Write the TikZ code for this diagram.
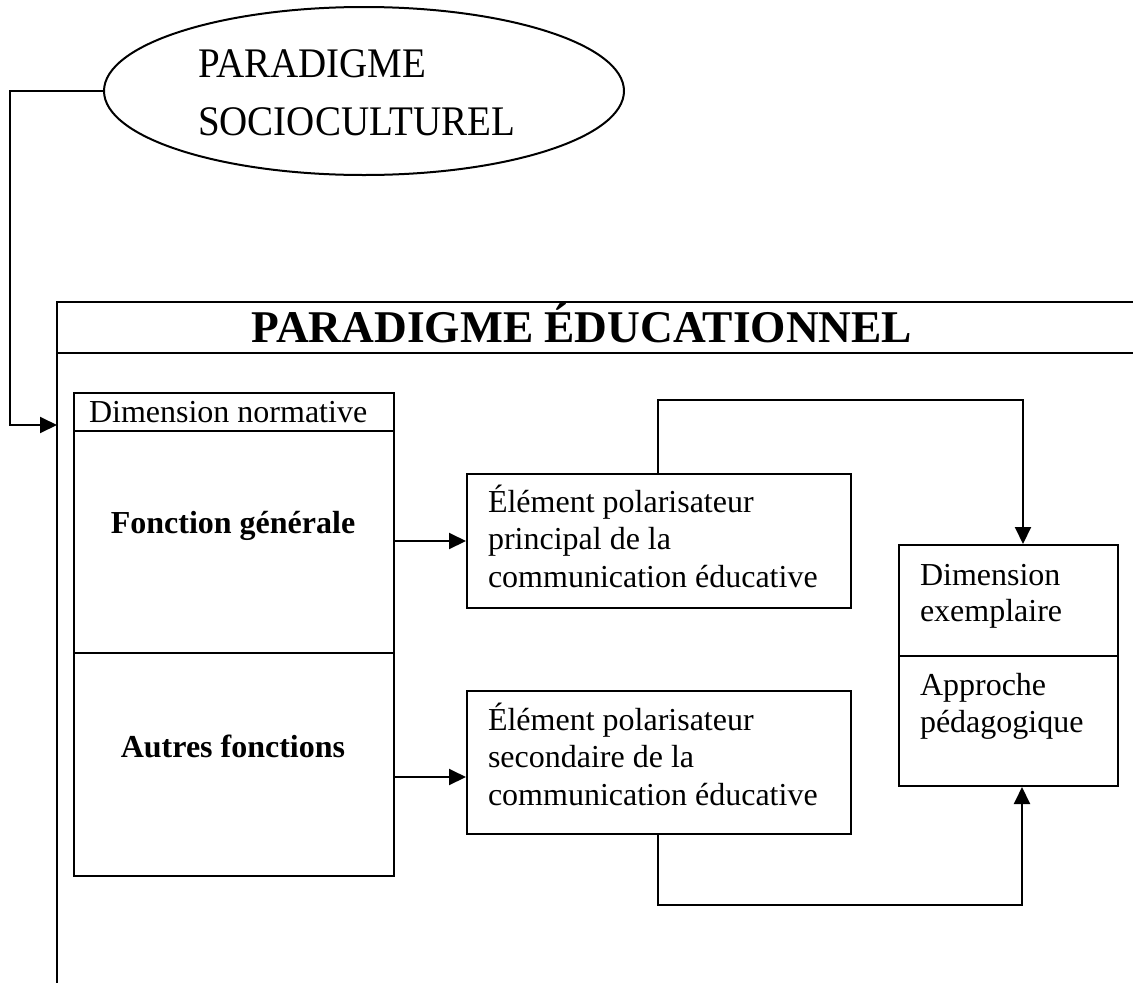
\documentclass[tikz,border=0pt]{standalone}
\usepackage{fontspec}
\setmainfont{Liberation Serif}
\usetikzlibrary{arrows.meta,shapes.geometric}
\begin{document}
\begin{tikzpicture}[x=1pt,y=-1pt,
  line width=2pt,
  arr/.style={-{Triangle[length=17pt,width=16pt]}},
  box/.style={draw, rectangle, inner sep=0pt, anchor=north west},
  txt/.style={font=\fontsize{32}{37.5}\selectfont, inner sep=0pt, align=left, anchor=base west},
  boldtxt/.style={font=\bfseries\fontsize{32}{37.5}\selectfont, inner sep=0pt, anchor=base},
]
\useasboundingbox (0,0) rectangle (1133,983);

% socio-cultural paradigm
\node[draw, ellipse, minimum width=520pt, minimum height=168pt, inner sep=0pt] (soc) at (364,91) {};
\node[font=\fontsize{39}{58}\selectfont, align=left, anchor=base west, inner sep=0pt] (soctxt) at (197,135) {\scalebox{1}[1.08]{PARADIGME}\\\scalebox{1}[1.08]{SOCIOCULTUREL}};

% educational paradigm frame
\coordinate (ftr) at (1133,302);
\coordinate (ftl) at (57,302);
\coordinate (fbl) at (57,983);
\coordinate (fsl) at (57,353);
\coordinate (fsr) at (1133,353);
\draw (ftr) -- (ftl) -- (fbl);
\draw (fsl) -- (fsr);
\node[font=\bfseries\fontsize{45.4}{50}\selectfont, anchor=base, inner sep=0pt] (title) at (582,342) {PARADIGME ÉDUCATIONNEL};

% connector from ellipse into frame
\coordinate (c1) at (10,91);
\coordinate (fin) at (57,425);
\draw[arr] (soc.west) -- (c1) |- (fin);

% normative dimension
\node[box, minimum width=320pt, minimum height=38pt] (nh) at (73,392) {};
\node[box, minimum width=320pt, minimum height=222pt] (fg) at (73,430) {};
\node[box, minimum width=320pt, minimum height=223pt] (af) at (73,652) {};
\node[txt] (nhtxt) at (88,422) {Dimension normative};
\node[boldtxt] (fgtxt) at (233,533) {Fonction générale};
\node[boldtxt] (aftxt) at (233,757) {Autres fonctions};

% polarising elements
\node[box, minimum width=384pt, minimum height=134pt] (ep) at (466,473) {};
\node[txt] (eptxt) at (487,587) {Élément polarisateur\\principal de la\\communication éducative};
\node[box, minimum width=384pt, minimum height=143pt] (es) at (466,690) {};
\node[txt] (estxt) at (487,805) {Élément polarisateur\\secondaire de la\\communication éducative};

% exemplary dimension
\node[box, minimum width=219pt, minimum height=111pt] (de) at (898,544) {};
\node[box, minimum width=219pt, minimum height=130pt] (ap) at (898,655) {};
\node[txt, font=\fontsize{32}{36}\selectfont] (detxt) at (919,621) {Dimension\\exemplaire};
\node[txt, font=\fontsize{32}{37}\selectfont] (aptxt) at (919,732) {Approche\\pédagogique};

% connectors
\draw[arr] (fg.east |- ep.west) -- (ep.west);
\coordinate (a2) at (430,777);
\draw[arr] (af.east |- a2) -- (es.west |- a2);
\coordinate (t1) at (658,400);
\coordinate (t2) at (1023,400);
\draw[arr] (ep.north -| t1) -- (t1) -- (t2) -- (de.north -| t2);
\coordinate (b1) at (658,905);
\coordinate (b2) at (1022,905);
\draw[arr] (es.south -| b1) -- (b1) -- (b2) -- (ap.south -| b2);
\end{tikzpicture}
\end{document}
